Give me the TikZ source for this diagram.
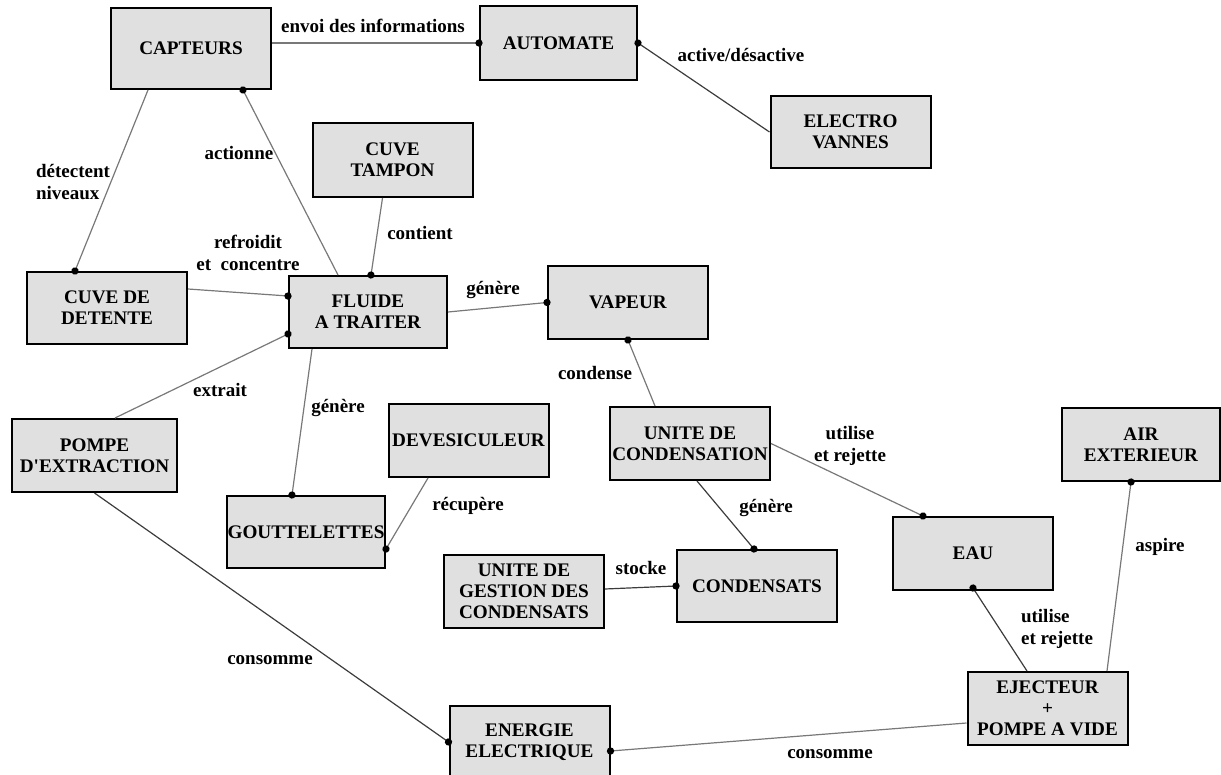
\documentclass[tikz,border=0pt]{standalone}
\usepackage{fontspec}
\setmainfont{Liberation Serif}
\usetikzlibrary{arrows.meta}

\definecolor{boxfill}{RGB}{224,224,224}
\definecolor{linkgray}{RGB}{120,120,120}
\definecolor{linkdark}{RGB}{60,60,60}
\newcommand{\boxfont}{\fontsize{9.6}{10.5}\selectfont\bfseries}
\newcommand{\lblfont}{\fontsize{9.5}{11.2}\selectfont\bfseries}

\begin{document}
\begin{tikzpicture}[x=0.5pt, y=-0.5pt,
    concept/.style={draw, line width=1pt, fill=boxfill, align=center,
      font=\boxfont, inner sep=1pt, minimum width=80pt, minimum height=36.5pt},
    lien/.style={draw=linkgray, line width=0.6pt},
    liendark/.style={draw=linkdark, line width=0.6pt},
    dotend/.style={-{Circle[length=3.6pt, color=black]}, shorten >=-1.8pt},
    lbl/.style={font=\lblfont, align=center, inner sep=0pt}]
  \useasboundingbox (0,0) rectangle (1221,775);

  % concepts
  \node[concept, minimum height=40.5pt] (capteurs) at (191,48.5) {CAPTEURS};
  \node[concept, minimum width=78.5pt, minimum height=37pt] (automate) at (558.5,43) {AUTOMATE};
  \node[concept, minimum height=36pt] (electro) at (850.5,132) {ELECTRO\\VANNES};
  \node[concept, minimum height=37pt] (tampon) at (392.5,160) {CUVE\\TAMPON};
  \node[concept, minimum height=36pt] (detente) at (107,308) {CUVE DE\\DETENTE};
  \node[concept, minimum width=79pt, minimum height=36pt] (fluide) at (368,312) {FLUIDE\\A TRAITER};
  \node[concept] (vapeur) at (628,302.5) {VAPEUR};
  \node[concept, minimum width=82.5pt] (pompe) at (94.5,455.5) {POMPE\\D\textquotesingle EXTRACTION};
  \node[concept, minimum width=79pt, minimum height=36pt, inner sep=0pt] (goutte) at (306,532) {GOUTTELETTES};
  \node[concept] (devesi) at (468.5,440.5) {DEVESICULEUR};
  \node[concept] (ucond) at (690,443.5) {UNITE DE\\CONDENSATION};
  \node[concept] (gestion) at (524,591.5) {UNITE DE\\GESTION DES\\CONDENSATS};
  \node[concept, minimum height=36pt] (condensats) at (757,586) {CONDENSATS};
  \node[concept, minimum width=79pt] (air) at (1141,444.5) {AIR\\EXTERIEUR};
  \node[concept] (eau) at (973,553.5) {EAU};
  \node[concept] (ejecteur) at (1047.5,708.5) {EJECTEUR\\+\\POMPE A VIDE};
  \node[concept, minimum height=36pt] (energie) at (529.5,742) {ENERGIE\\ELECTRIQUE};

  % liens
  \draw[lien, dotend] (capteurs.east |- automate.west) -- (automate.west);
  \draw[liendark, dotend] (electro.west) -- (automate.east);
  \draw[lien, dotend] ([xshift=-21.5pt]capteurs.south) -- ([xshift=-16pt]detente.north);
  \draw[lien, dotend] ([xshift=-15pt]fluide.north) -- ([xshift=26pt]capteurs.south);
  \draw[lien, dotend] ([xshift=-5pt]tampon.south) -- ([xshift=1.5pt]fluide.north);
  \draw[lien, dotend] ([yshift=9.5pt]detente.east) -- ([yshift=8pt]fluide.west);
  \draw[lien, dotend] (fluide.east) -- (vapeur.west);
  \draw[lien, dotend] ([xshift=10.25pt]pompe.north) -- ([yshift=-11pt]fluide.west);
  \draw[lien, dotend] ([xshift=-28pt]fluide.south) -- ([xshift=-7pt]goutte.north);
  \draw[lien, dotend] ([xshift=-20.25pt]devesi.south) -- ([yshift=-8.5pt]goutte.east);
  \draw[lien, dotend] ([xshift=-17.5pt]ucond.north) -- (vapeur.south);
  \draw[liendark, dotend] ([xshift=3.5pt]ucond.south) -- ([xshift=-1.5pt]condensats.north);
  \draw[liendark, dotend] ([yshift=1.25pt]gestion.east) -- (condensats.west);
  \draw[lien, dotend] (ucond.east) -- ([xshift=-25pt]eau.north);
  \draw[liendark, dotend] ([xshift=-10.25pt]ejecteur.north) -- ([yshift=1.5pt]eau.south);
  \draw[lien, dotend] ([xshift=29.75pt]ejecteur.north) -- ([xshift=-5pt]air.south);
  \draw[liendark, dotend] (pompe.south) -- (energie.west);
  \draw[lien, dotend] ([yshift=-7.25pt]ejecteur.west) -- ([yshift=-4.5pt]energie.east);

  % etiquettes
  \node[lbl] (l-envoi) at (373,26) {envoi des informations};
  \node[lbl] (l-active) at (741,55) {active/désactive};
  \node[lbl, align=left] (l-detect) at (73,182) {détectent\\niveaux};
  \node[lbl] (l-actionne) at (239,153) {actionne};
  \node[lbl] (l-contient) at (420,233) {contient};
  \node[lbl] (l-refroidit) at (248,253) {refroidit\\et\ \ concentre};
  \node[lbl] (l-genere1) at (493,290) {génère};
  \node[lbl] (l-extrait) at (220,390) {extrait};
  \node[lbl] (l-genere2) at (338,408) {génère};
  \node[lbl] (l-recup) at (468,506) {récupère};
  \node[lbl] (l-condense) at (595,373) {condense};
  \node[lbl] (l-genere3) at (766,508) {génère};
  \node[lbl] (l-stocke) at (641,568) {stocke};
  \node[lbl] (l-utilise1) at (850,446) {utilise\\et rejette};
  \node[lbl, align=left] (l-utilise2) at (1057,629) {utilise\\et rejette};
  \node[lbl] (l-aspire) at (1160,547) {aspire};
  \node[lbl] (l-conso1) at (270,660) {consomme};
  \node[lbl] (l-conso2) at (830,754) {consomme};
\end{tikzpicture}
\end{document}
